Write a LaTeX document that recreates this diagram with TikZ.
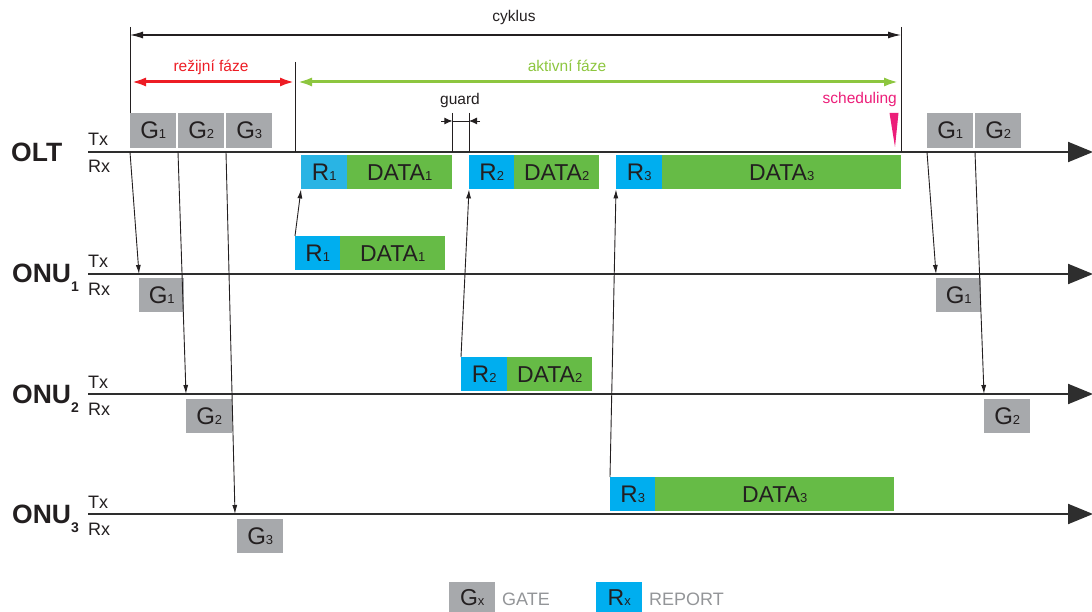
\documentclass[tikz,border=0pt]{standalone}
\usepackage{fontspec}
\setmainfont{Liberation Sans}
\usetikzlibrary{arrows.meta,calc}

\definecolor{ink}{HTML}{231F20}
\definecolor{axisgray}{HTML}{2E2E2E}
\definecolor{gatebox}{HTML}{A7A9AC}
\definecolor{repblue}{HTML}{00AEEF}
\definecolor{repblueL}{HTML}{29B4E4}
\definecolor{datagreen}{HTML}{66BB46}
\definecolor{phasered}{HTML}{ED1C24}
\definecolor{phasegreen}{HTML}{8DC63F}
\definecolor{schedmag}{HTML}{EC1E79}
\definecolor{legendgray}{HTML}{939598}

\newcommand\dig[1]{{\fontsize{13}{13}\selectfont #1}}
\newcommand\onusub[1]{\raisebox{-9pt}{\fontsize{14}{14}\selectfont #1}}

\begin{document}
\begin{tikzpicture}[x=1pt,y=-1pt,
  axisline/.style={line width=2pt,draw=axisgray,-{Triangle[length=25pt,width=20pt]}},
  msg/.style={draw=ink,line width=0.9pt,-{Latex[length=9pt,width=5pt]}},
  frame/.style={draw=ink,line width=1pt},
  pkt/.style={inner sep=0pt,anchor=north west,minimum height=34pt,text=ink,
    font=\fontsize{24}{24}\selectfont},
  gatepkt/.style={pkt,fill=gatebox,minimum width=46pt},
  reppkt/.style={pkt,fill=repblue,minimum width=46pt},
  datapkt/.style={pkt,fill=datagreen,font=\fontsize{23}{23}\selectfont},
  station/.style={inner sep=0pt,anchor=base west,text=ink,
    font=\bfseries\fontsize{26.5}{26.5}\selectfont},
  txrx/.style={inner sep=0pt,anchor=base west,text=ink,font=\fontsize{18}{18}\selectfont},
  note/.style={inner sep=0pt,font=\fontsize{15.5}{15.5}\selectfont},
]
\useasboundingbox (0,0) rectangle (1092,612);

% ---- time axes ----
\coordinate (olt)  at (88,152);
\coordinate (onu1) at (88,274);
\coordinate (onu2) at (88,394);
\coordinate (onu3) at (88,514);
\coordinate (oltE)  at (1093,152);
\coordinate (onu1E) at (1093,274);
\coordinate (onu2E) at (1093,394);
\coordinate (onu3E) at (1093,514);
\draw[axisline] (olt) -- (oltE);
\draw[axisline] (onu1) -- (onu1E);
\draw[axisline] (onu2) -- (onu2E);
\draw[axisline] (onu3) -- (onu3E);

% ---- station labels ----
\node[station] (lolt)  at (11,162) {OLT};
\node[station] (lonu1) at (12,283) {ONU\onusub{1}};
\node[station] (lonu2) at (12,403) {ONU\onusub{2}};
\node[station] (lonu3) at (12,523) {ONU\onusub{3}};
\foreach \s/\y in {olt/152,onu1/274,onu2/394,onu3/514}{
  \node[txrx] (tx\s) at (88,\y-6) {Tx};
  \node[txrx] (rx\s) at (88,\y+21) {Rx};
}

% ---- cycle and phase markers ----
\coordinate (cycL) at (130,35);
\coordinate (cycR) at (901,35);
\coordinate (phM)  at (295,82);
\draw[frame] (130,27) -- (130,113);
\draw[frame] (901,27) -- (901,152);
\draw[frame] (295,62) -- (295,152);
\draw[draw=ink,line width=1.1pt,{Latex[length=13pt,width=7pt]}-{Latex[length=13pt,width=7pt]}]
  (cycL) -- (cycR);
\node[note,text=ink,anchor=base] (cyk) at (514,22) {cyklus};
\draw[draw=phasered,line width=3pt,{Latex[length=15pt,width=9pt]}-{Latex[length=15pt,width=9pt]}]
  (131,82) -- (phM);
\node[note,text=phasered,anchor=base] (rez) at (211,72) {režijní fáze};
\draw[draw=phasegreen,line width=3pt,{Latex[length=15pt,width=9pt]}-{Latex[length=15pt,width=9pt]}]
  (297,82) -- (899,82);
\node[note,text=phasegreen,anchor=base] (akt) at (567,72) {aktivní fáze};

% ---- OLT transmit: gates ----
\node[gatepkt,minimum height=35pt] (ga1) at (130,113) {G\dig{1}};
\node[gatepkt,minimum height=35pt] (ga2) at (178,113) {G\dig{2}};
\node[gatepkt,minimum height=35pt] (ga3) at (226,113) {G\dig{3}};
\node[gatepkt,minimum height=35pt] (gc1) at (927,113) {G\dig{1}};
\node[gatepkt,minimum height=35pt] (gc2) at (975,113) {G\dig{2}};

% ---- ONU receive: gates ----
\node[gatepkt,minimum width=45pt] (gb1) at (139,278) {G\dig{1}};
\node[gatepkt] (gb2) at (186,399) {G\dig{2}};
\node[gatepkt] (gb3) at (237,519) {G\dig{3}};
\node[gatepkt,minimum width=45pt] (gd1) at (936,278) {G\dig{1}};
\node[gatepkt] (gd2) at (984,399) {G\dig{2}};

% ---- ONU transmit: reports and data ----
\node[reppkt,minimum width=45pt] (ru1) at (295,236) {R\dig{1}};
\node[datapkt,minimum width=105pt] (du1) at (340,236) {DATA\dig{1}};
\node[reppkt] (ru2) at (461,357) {R\dig{2}};
\node[datapkt,minimum width=85pt] (du2) at (507,357) {DATA\dig{2}};
\node[reppkt,minimum width=45pt] (ru3) at (610,477) {R\dig{3}};
\node[datapkt,minimum width=239pt] (du3) at (655,477) {DATA\dig{3}};

% ---- OLT receive: reports and data ----
\node[reppkt,fill=repblueL] (ro1) at (301,155) {R\dig{1}};
\node[datapkt,minimum width=105pt] (do1) at (347,155) {DATA\dig{1}};
\node[reppkt,minimum width=45pt] (ro2) at (469,155) {R\dig{2}};
\node[datapkt,minimum width=85pt] (do2) at (514,155) {DATA\dig{2}};
\node[reppkt] (ro3) at (616,155) {R\dig{3}};
\node[datapkt,minimum width=239pt] (do3) at (662,155) {DATA\dig{3}};

% ---- GATE messages ----
\draw[msg] (ga1.south west |- olt) -- (gb1.north west |- onu1);
\draw[msg] (ga2.south west |- olt) -- (gb2.north west |- onu2);
\draw[msg] (ga3.south west |- olt) -- ($(gb3.north west |- onu3)+(-2,0)$);
\draw[msg] (gc1.south west |- olt) -- (gd1.north west |- onu1);
\draw[msg] (gc2.south west |- olt) -- (gd2.north west |- onu2);

% ---- REPORT messages ----
\draw[msg] (ru1.north west) -- (ro1.south west);
\draw[msg] (ru2.north west) -- (ro2.south west);
\draw[msg] (ru3.north west) -- (ro3.south west);

% ---- guard interval ----
\coordinate (gdL) at (do1.east |- 0,121);
\coordinate (gdR) at (ro2.west |- 0,121);
\draw[frame,line width=0.9pt] (do1.north east |- 0,113) -- (do1.north east |- olt);
\draw[frame,line width=0.9pt] (ro2.north west |- 0,113) -- (ro2.north west |- olt);
\draw[draw=ink,line width=0.9pt] (gdL) -- (gdR);
\draw[draw=ink,line width=0.9pt,-{Latex[length=8pt,width=7pt]}] ($(gdL)+(-11,0)$) -- (gdL);
\draw[draw=ink,line width=0.9pt,-{Latex[length=8pt,width=7pt]}] ($(gdR)+(11,0)$) -- (gdR);
\node[note,text=ink,anchor=base] (grd) at (460,105) {guard};

% ---- scheduling mark ----
\node[note,text=schedmag,anchor=base east] (sch) at (897,104) {scheduling};
\fill[schedmag] (889.5,113) -- (898.5,113) -- (895,147) -- cycle;

% ---- legend ----
\node[gatepkt,minimum height=30pt,font=\fontsize{23}{23}\selectfont] (lgG) at (449,582) {G\dig{x}};
\node[inner sep=0pt,anchor=base west,text=legendgray,font=\fontsize{18}{18}\selectfont]
  (lgGt) at (502,605) {GATE};
\node[reppkt,minimum height=30pt,font=\fontsize{23}{23}\selectfont] (lgR) at (596,582) {R\dig{x}};
\node[inner sep=0pt,anchor=base west,text=legendgray,font=\fontsize{18}{18}\selectfont]
  (lgRt) at (649,605) {REPORT};
\end{tikzpicture}
\end{document}
